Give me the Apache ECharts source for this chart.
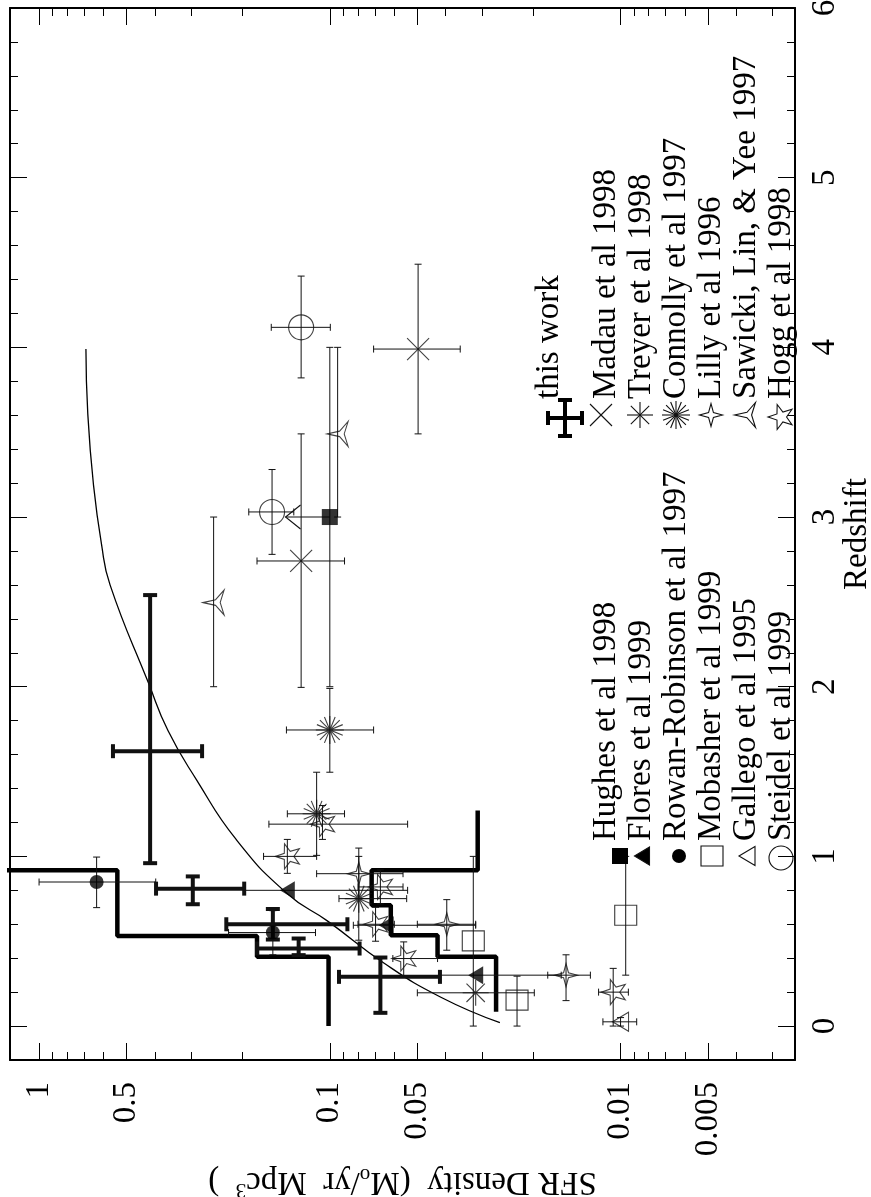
<!DOCTYPE html>
<html><head><meta charset="utf-8">
<script src="https://cdn.jsdelivr.net/npm/echarts@6/dist/echarts.min.js"></script>
<style>html,body{margin:0;padding:0;background:#fff}#c{width:871px;height:1197px}</style>
</head><body><div id="c"></div>
<script>
// ---------- axes ----------
const zMajorTicks = [0, 1, 2, 3, 4, 5, 6];
const sfrMajorTicks = [1, 0.5, 0.1, 0.05, 0.01, 0.005];
const sfrTickLabels = ['1', '0.5', '0.1', '0.05', '0.01', '0.005'];
const sfrMinorTicks = [0.9, 0.8, 0.7, 0.6, 0.4, 0.3, 0.2, 0.09, 0.08, 0.07, 0.06, 0.04, 0.03, 0.02,
  0.009, 0.008, 0.007, 0.006, 0.004, 0.003];

// ---------- model curve ----------
const curveZ = [0.02, 0.17, 0.37, 0.62, 0.78, 1.1, 1.45, 1.74, 2.02, 2.6, 2.84, 3.19, 3.61, 3.99];
const curveSFR = [0.026, 0.0415, 0.065, 0.102, 0.14, 0.21, 0.287, 0.36, 0.42, 0.57, 0.61, 0.65, 0.68, 0.69];

// ---------- histograms (this work) ----------
const histAZ = [0, 0.408, 0.408, 0.531, 0.531, 0.918, 0.918];
const histASFR = [0.101, 0.101, 0.178, 0.178, 0.538, 0.538, 3.0];
const histBZ = [1.27, 0.918, 0.918, 0.712, 0.712, 0.535, 0.535, 0.408, 0.408, 0.084];
const histBSFR = [0.031, 0.031, 0.0718, 0.0718, 0.0617, 0.0617, 0.0426, 0.0426, 0.0268, 0.0268];

// ---------- this work ----------
const thisZ = [1.62, 0.81, 0.60, 0.457, 0.29];
const thisSFR = [0.415, 0.296, 0.157, 0.128, 0.067];
const thisZLo = [0.96, 0.718, 0.51, 0.418, 0.078];
const thisZHi = [2.54, 0.882, 0.69, 0.516, 0.404];
const thisSFRLo = [0.275, 0.197, 0.087, 0.079, 0.0418];
const thisSFRHi = [0.557, 0.396, 0.227, 0.178, 0.093];

// ---------- Hughes et al 1998 ----------
const hughesZ = [3.0], hughesSFR = [0.1], hughesZLo = [2.0], hughesZHi = [4.0], hughesLimitSFR = [0.142];
// ---------- Flores et al 1999 ----------
const floresZ = [0.80, 0.594, 0.30], floresSFR = [0.14, 0.064, 0.0315];
const floresSFRLo = [0.054, 0.0315, 0.016], floresSFRHi = [0.197, 0.083, 0.042];
// ---------- Rowan-Robinson et al 1997 ----------
const rrZ = [0.849, 0.551], rrSFR = [0.634, 0.157];
const rrZLo = [0.698, 0.42], rrZHi = [0.996, 0.68], rrSFRLo = [0.397, 0.112], rrSFRHi = [1.0, 0.223];
// ---------- Mobasher et al 1999 ----------
const mobZ = [0.502, 0.153, 0.653], mobSFR = [0.0321, 0.0227, 0.0096];
const mobZLo = [0.0, 0.0, 0.3], mobZHi = [1.0, 0.294, 1.0];
// ---------- Gallego et al 1995 ----------
const galZ = [0.025], galSFR = [0.0100], galZLo = [0.0], galZHi = [0.05], galSFRLo = [0.0088], galSFRHi = [0.0115];
// ---------- Steidel et al 1999 ----------
const stZ = [4.118, 3.03], stSFR = [0.1255, 0.158];
const stZLo = [3.82, 2.78], stZHi = [4.42, 3.28], stSFRLo = [0.0996, 0.133], stSFRHi = [0.159, 0.19];
// ---------- Madau et al 1998 ----------
const mdZ = [2.741, 3.99], mdSFR = [0.1255, 0.0497];
const mdZLo = [1.996, 3.49], mdZHi = [3.49, 4.49], mdSFRLo = [0.089, 0.0356], mdSFRHi = [0.178, 0.0707];
// ---------- Treyer et al 1998 ----------
const trZ = [0.196], trSFR = [0.0315], trSFRLo = [0.0198], trSFRHi = [0.05];
// ---------- Connolly et al 1997 ----------
const coZ = [0.751, 1.251, 1.745], coSFR = [0.0795, 0.111, 0.1];
const coZLo = [0.506, 1.006, 1.496], coZHi = [1.049, 1.496, 1.99];
const coSFRLo = [0.0544, 0.089, 0.0707], coSFRHi = [0.093, 0.14, 0.141];
// ---------- Lilly et al 1996 ----------
const liZ = [0.898, 0.60, 0.30], liSFR = [0.0795, 0.0396, 0.0154];
const liZLo = [0.75, 0.447, 0.15], liZHi = [1.0, 0.745, 0.42];
const liSFRLo = [0.056, 0.0315, 0.0127], liSFRHi = [0.111, 0.05, 0.0178];
// ---------- Sawicki, Lin, & Yee 1997 ----------
const swZ = [3.49, 2.496], swSFR = [0.094, 0.251], swZLo = [3.0, 2.0], swZHi = [4.0, 3.0];
// ---------- Hogg et al 1998 ----------
const hoZ = [1.19, 1.0, 0.82, 0.60, 0.398, 0.20];
const hoSFR = [0.106, 0.14, 0.067, 0.0696, 0.0557, 0.0106];
const hoZLo = [1.1, 0.9, 0.72, 0.5, 0.294, 0.0], hoZHi = [1.3, 1.1, 0.92, 0.7, 0.496, 0.34];
const hoSFRLo = [0.054, 0.111, 0.056, 0.06, 0.0426, 0.0094], hoSFRHi = [0.162, 0.169, 0.08, 0.08, 0.0607, 0.0119];

// ---------- legend texts ----------
const legendLeft = ['Hughes et al 1998', 'Flores et al 1999', 'Rowan-Robinson et al 1997',
  'Mobasher et al 1999', 'Gallego et al 1995', 'Steidel et al 1999'];
const legendRight = ['this work', 'Madau et al 1998', 'Treyer et al 1998', 'Connolly et al 1997',
  'Lilly et al 1996', 'Sawicki, Lin, & Yee 1997', 'Hogg et al 1998'];

// ================= build =================
const FONT = '"Liberation Serif", "DejaVu Serif", serif';
const lg = Math.log10;
const INK = '#111';

// symbol shapes (unit box 0..100)
function starPts(n, inner, startDeg) {
  const p = [];
  for (let i = 0; i < 2 * n; i++) {
    const r = i % 2 === 0 ? 50 : 50 * inner;
    const a = (startDeg + i * 180 / n) * Math.PI / 180;
    p.push([50 + r * Math.cos(a), 50 - r * Math.sin(a)]);
  }
  return p;
}
function asterSegs(n, startDeg) {
  const s = [];
  for (let i = 0; i < n; i++) {
    const a = (startDeg + i * 180 / n) * Math.PI / 180;
    const dx = 50 * Math.cos(a), dy = 50 * Math.sin(a);
    s.push([[50 + dx, 50 - dy], [50 - dx, 50 + dy]]);
  }
  return s;
}
const polyD = p => p.map((q, i) => (i ? 'L' : 'M') + q[0].toFixed(2) + ',' + q[1].toFixed(2)).join('') + 'Z';
const segD = s => s.map(q => 'M' + q[0][0].toFixed(2) + ',' + q[0][1].toFixed(2) + 'L' + q[1][0].toFixed(2) + ',' + q[1][1].toFixed(2)).join('');
const SH = {
  triLeft: { poly: [[0, 50], [86.6, 0], [86.6, 100]] },
  star5: { poly: starPts(5, 0.4, 180) },
  star4: { poly: starPts(4, 0.3, 0) },
  star3: { poly: starPts(3, 0.22, 180) },
  cross: { segs: asterSegs(2, 45) },
  ast4: { segs: asterSegs(4, 0) },
  ast8: { segs: asterSegs(8, 0) }
};
const sym = k => 'path://' + (SH[k].poly ? polyD(SH[k].poly) : segD(SH[k].segs));

function errData(z, v, zLo, zHi, vLo, vHi) {
  return z.map((zz, i) => [lg(v[i]), zz,
    lg(vLo ? vLo[i] : v[i]), lg(vHi ? vHi[i] : v[i]),
    zLo ? zLo[i] : zz, zHi ? zHi[i] : zz]);
}
function errRender(capHalf, width) {
  return function (params, api) {
    const y = api.value(1), x = api.value(0);
    const xl = api.value(2), xh = api.value(3), yl = api.value(4), yh = api.value(5);
    const style = { stroke: INK, lineWidth: width, fill: null };
    const ch = [];
    const L = (x1, y1, x2, y2) => ch.push({ type: 'line', shape: { x1, y1, x2, y2 }, style });
    if (xl !== xh) {
      const a = api.coord([xl, y]), b = api.coord([xh, y]);
      L(a[0], a[1], b[0], b[1]);
      L(a[0], a[1] - capHalf, a[0], a[1] + capHalf);
      L(b[0], b[1] - capHalf, b[0], b[1] + capHalf);
    }
    if (yl !== yh) {
      const a = api.coord([x, yl]), b = api.coord([x, yh]);
      L(a[0], a[1], b[0], b[1]);
      L(a[0] - capHalf, a[1], a[0] + capHalf, a[1]);
      L(b[0] - capHalf, b[1], b[0] + capHalf, b[1]);
    }
    return { type: 'group', children: ch };
  };
}

const thinErr = [].concat(
  errData(hughesZ, hughesSFR, hughesZLo, hughesZHi),
  errData(floresZ, floresSFR, null, null, floresSFRLo, floresSFRHi),
  errData(rrZ, rrSFR, rrZLo, rrZHi, rrSFRLo, rrSFRHi),
  errData(mobZ, mobSFR, mobZLo, mobZHi),
  errData(galZ, galSFR, galZLo, galZHi, galSFRLo, galSFRHi),
  errData(stZ, stSFR, stZLo, stZHi, stSFRLo, stSFRHi),
  errData(mdZ, mdSFR, mdZLo, mdZHi, mdSFRLo, mdSFRHi),
  errData(trZ, trSFR, null, null, trSFRLo, trSFRHi),
  errData(coZ, coSFR, coZLo, coZHi, coSFRLo, coSFRHi),
  errData(liZ, liSFR, liZLo, liZHi, liSFRLo, liSFRHi),
  errData(swZ, swSFR, swZLo, swZHi),
  errData(hoZ, hoSFR, hoZLo, hoZHi, hoSFRLo, hoSFRHi)
);
const thickErr = errData(thisZ, thisSFR, thisZLo, thisZHi, thisSFRLo, thisSFRHi);

const pts = (z, v) => z.map((zz, i) => [lg(v[i]), zz]);
const line = (z, v, w, smooth) => ({
  type: 'line', data: pts(z, v), showSymbol: false, symbol: 'none', smooth: smooth || false,
  clip: true, lineStyle: { color: '#000', width: w }, z: 3
});
const open = { color: 'rgba(0,0,0,0)', borderColor: INK, borderWidth: 1.1 };
const solid = { color: '#000' };
const sc = (z, v, symbol, size, style) => ({
  type: 'scatter', data: pts(z, v), symbol, symbolSize: size, itemStyle: style, z: 5
});

// ---------- legend (graphic) ----------
const g = [];
function ltext(txt, cx, y0) {
  g.push({ type: 'text', x: cx, y: y0, rotation: Math.PI / 2, z: 100,
    style: { text: txt, fontSize: 33, fontFamily: FONT, fill: '#000',
      align: 'left', verticalAlign: 'middle', textAlign: 'left', textVerticalAlign: 'middle' } });
}
function fit(list, cx, cy, w, h) {
  let x0 = Infinity, x1 = -Infinity, y0 = Infinity, y1 = -Infinity;
  list.forEach(p => { x0 = Math.min(x0, p[0]); x1 = Math.max(x1, p[0]); y0 = Math.min(y0, p[1]); y1 = Math.max(y1, p[1]); });
  return list.map(p => [cx - w / 2 + (p[0] - x0) / (x1 - x0) * w, cy - h / 2 + (p[1] - y0) / (y1 - y0) * h]);
}
function lsym(k, cx, cy, w, h, fill) {
  const s = SH[k];
  if (s.poly) {
    g.push({ type: 'polygon', z: 100, shape: { points: fit(s.poly, cx, cy, w, h) },
      style: { fill: fill ? '#000' : 'rgba(0,0,0,0)', stroke: INK, lineWidth: 1.1 } });
  } else {
    const flat = [];
    s.segs.forEach(q => { flat.push(q[0], q[1]); });
    const f = fit(flat, cx, cy, w, h);
    for (let i = 0; i < f.length; i += 2) {
      g.push({ type: 'line', z: 100, shape: { x1: f[i][0], y1: f[i][1], x2: f[i + 1][0], y2: f[i + 1][1] },
        style: { stroke: INK, lineWidth: 1.1 } });
    }
  }
}
const LY = 856, RY = 415, LT = 841, RT = 399;
const colX = [606, 641, 676, 711, 746, 781];
legendLeft.forEach((t, i) => ltext(t, colX[i], LT));
g.push({ type: 'rect', z: 100, shape: { x: 620 - 8, y: LY - 8, width: 16, height: 16 }, style: { fill: '#000' } });
lsym('triLeft', 642, LY, 15, 18, true);
g.push({ type: 'circle', z: 100, shape: { cx: 679, cy: LY, r: 7 }, style: { fill: '#000' } });
g.push({ type: 'rect', z: 100, shape: { x: 712 - 11, y: LY - 10, width: 22, height: 20 }, style: { fill: 'rgba(0,0,0,0)', stroke: INK, lineWidth: 1.1 } });
lsym('triLeft', 747, LY, 16, 19, false);
g.push({ type: 'circle', z: 100, shape: { cx: 781, cy: LY + 2, r: 12 }, style: { fill: 'rgba(0,0,0,0)', stroke: INK, lineWidth: 1.1 } });
const colXR = [549, 606, 641, 676, 711, 746, 781];
legendRight.forEach((t, i) => ltext(t, colXR[i], RT));
(function () {
  const cx = 565, cy = 418, s = { stroke: '#000', lineWidth: 4 };
  const L = (x1, y1, x2, y2) => g.push({ type: 'line', z: 100, shape: { x1, y1, x2, y2 }, style: s });
  L(cx - 17, cy, cx + 17, cy); L(cx, cy - 18, cx, cy + 18);
  L(cx - 17, cy - 7, cx - 17, cy + 7); L(cx + 17, cy - 7, cx + 17, cy + 7);
  L(cx - 7, cy - 18, cx + 7, cy - 18); L(cx - 7, cy + 18, cx + 7, cy + 18);
})();
lsym('cross', 601, RY, 22, 22, false);
lsym('ast4', 640, RY, 26, 26, false);
lsym('ast8', 676, RY, 28, 28, false);
lsym('star4', 711, RY, 23, 23, false);
lsym('star3', 745, RY, 21, 25, false);
lsym('star5', 780, RY + 2, 24, 25, false);

// ---------- axes ----------
const tickStyle = { color: '#000', width: 1 };
const frame = { show: true, onZero: false, lineStyle: { color: '#000', width: 2 } };
const noLine = { show: false, onZero: false };
const sfrMajorLog = sfrMajorTicks.map(lg);
const sfrMinorLog = sfrMinorTicks.map(lg);
const xBase = { type: 'value', min: -2.6, max: 0.1, inverse: true, splitLine: { show: false }, gridIndex: 0 };
const yBase = { type: 'value', min: -0.2, max: 6, splitLine: { show: false }, gridIndex: 0 };

const option = {
  animation: false,
  backgroundColor: '#fff',
  grid: { left: 10, right: 76, top: 8, bottom: 137, containLabel: false, outerBoundsMode: 'none' },
  xAxis: [
    Object.assign({}, xBase, {
      position: 'bottom', axisLine: frame,
      axisTick: { show: true, inside: true, length: 17, customValues: sfrMajorLog, lineStyle: tickStyle },
      axisLabel: { show: true, customValues: sfrMajorLog, rotate: 90, margin: 22, fontSize: 33, fontFamily: FONT, color: '#000',
        formatter: v => { let b = 0; sfrMajorLog.forEach((t, i) => { if (Math.abs(t - v) < Math.abs(sfrMajorLog[b] - v)) b = i; }); return sfrTickLabels[b]; } },
      name: 'SFR Density  (M{sub|o}/yr  Mpc{sup|3}  )', nameLocation: 'middle', nameRotate: 180, nameGap: 96,
      nameTextStyle: { fontSize: 33, fontFamily: FONT, color: '#000',
        rich: { sub: { fontSize: 21, fontFamily: FONT, color: '#000', padding: [14, 0, 0, 0] },
                sup: { fontSize: 21, fontFamily: FONT, color: '#000', padding: [0, 0, 16, 0] } } }
    }),
    Object.assign({}, xBase, { position: 'bottom', axisLine: noLine,
      axisTick: { show: true, inside: true, length: 8, customValues: sfrMinorLog, lineStyle: tickStyle }, axisLabel: { show: false } }),
    Object.assign({}, xBase, { position: 'top', axisLine: frame,
      axisTick: { show: true, inside: true, length: 17, customValues: sfrMajorLog, lineStyle: tickStyle }, axisLabel: { show: false } }),
    Object.assign({}, xBase, { position: 'top', axisLine: noLine,
      axisTick: { show: true, inside: true, length: 8, customValues: sfrMinorLog, lineStyle: tickStyle }, axisLabel: { show: false } })
  ],
  yAxis: [
    Object.assign({}, yBase, {
      position: 'right', axisLine: frame,
      axisTick: { show: true, inside: true, length: 17, customValues: zMajorTicks, lineStyle: tickStyle },
      axisLabel: { show: true, customValues: zMajorTicks, rotate: 90, margin: 14, fontSize: 33, fontFamily: FONT, color: '#000' },
      name: 'Redshift', nameLocation: 'middle', nameRotate: 90, nameGap: 46, nameMoveOverlap: false,
      nameTextStyle: { fontSize: 33, fontFamily: FONT, color: '#000' }
    }),
    Object.assign({}, yBase, { position: 'right', axisLine: noLine, interval: 0.2,
      axisTick: { show: true, inside: true, length: 8, lineStyle: tickStyle }, axisLabel: { show: false } }),
    Object.assign({}, yBase, { position: 'left', axisLine: frame,
      axisTick: { show: true, inside: true, length: 17, customValues: zMajorTicks, lineStyle: tickStyle }, axisLabel: { show: false } }),
    Object.assign({}, yBase, { position: 'left', axisLine: noLine, interval: 0.2,
      axisTick: { show: true, inside: true, length: 8, lineStyle: tickStyle }, axisLabel: { show: false } })
  ],
  series: [
    line(curveZ, curveSFR, 1.3, true),
    line(histAZ, histASFR, 4.5),
    line(histBZ, histBSFR, 4.5),
    { type: 'custom', data: thinErr, renderItem: errRender(3.5, 1), encode: { x: 0, y: 1 }, z: 4 },
    { type: 'custom', data: thickErr, renderItem: errRender(7, 4), encode: { x: 0, y: 1 }, z: 4 },
    { type: 'custom', data: hughesZ.map((zz, i) => [lg(hughesSFR[i]), zz, lg(hughesLimitSFR[i])]), encode: { x: 0, y: 1 }, z: 4,
      renderItem: (params, api) => {
        const a = api.coord([api.value(0), api.value(1)]), b = api.coord([api.value(2), api.value(1)]);
        const s = { stroke: INK, lineWidth: 1.1, fill: null };
        return { type: 'group', children: [
          { type: 'line', shape: { x1: a[0], y1: a[1], x2: b[0], y2: b[1] }, style: s },
          { type: 'polyline', shape: { points: [[b[0] + 15, b[1] - 12], [b[0], b[1]], [b[0] + 15, b[1] + 12]] }, style: s }
        ] };
      } },
    sc(hughesZ, hughesSFR, 'rect', 16, solid),
    sc(floresZ, floresSFR, sym('triLeft'), [15, 18], solid),
    sc(rrZ, rrSFR, 'circle', 14, solid),
    sc(mobZ, mobSFR, 'rect', [22, 20], open),
    sc(galZ, galSFR, sym('triLeft'), [16, 19], open),
    sc(stZ, stSFR, 'circle', 25, open),
    sc(mdZ, mdSFR, sym('cross'), 22, open),
    sc(trZ, trSFR, sym('ast4'), 26, open),
    sc(coZ, coSFR, sym('ast8'), 28, open),
    sc(liZ, liSFR, sym('star4'), 23, open),
    sc(swZ, swSFR, sym('star3'), [21, 25], open),
    sc(hoZ, hoSFR, sym('star5'), [24, 25], open)
  ],
  graphic: { elements: g }
};
const chart = echarts.init(document.getElementById('c'), null, { renderer: 'canvas' });
chart.setOption(option);
</script>
</body></html>
